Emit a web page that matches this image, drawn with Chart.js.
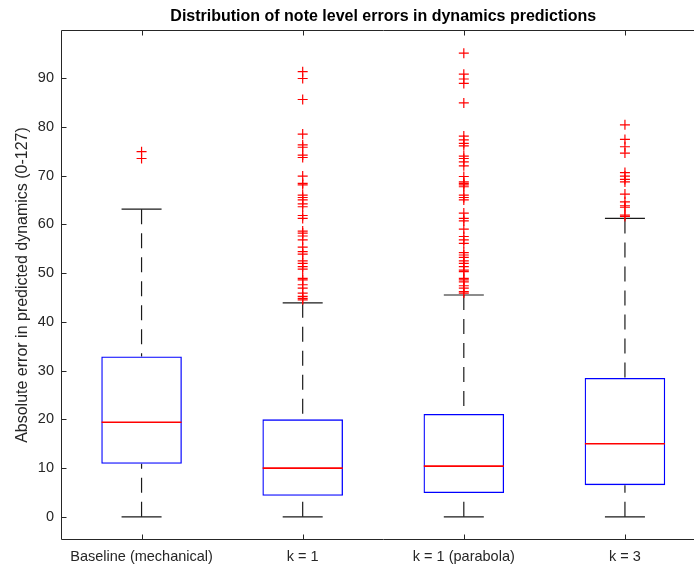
<!DOCTYPE html>
<html><head><meta charset="utf-8">
<script src="https://cdn.jsdelivr.net/npm/chart.js@4/dist/chart.umd.min.js"></script>
<style>html,body{margin:0;padding:0;overflow:hidden;background:#fff;width:694px;height:566px}#wrap{position:relative;width:720px;height:566px}canvas{display:block}</style>
</head><body>
<div id="wrap"><canvas id="c" width="720" height="566"></canvas></div>
<script>
// ---- data ----
const categories = ['Baseline (mechanical)', 'k = 1', 'k = 1 (parabola)', 'k = 3'];
const q1 = [10.9, 4.3, 4.9, 6.5];
const median = [19.4, 10.0, 10.4, 15.0];
const q3 = [32.9, 20.0, 21.1, 28.5];
const whiskerLow = [0, 0, 0, 0];
const whiskerHigh = [63.1, 43.9, 45.5, 61.2];
const outliersBaseline = [74.9, 73.5];
const outliersK1 = [91.3, 89.9, 85.6, 78.5, 76.3, 75.8, 74.2, 73.7, 69.9, 68.4, 68.1, 66.0, 65.5, 65.0, 64.2, 63.6, 61.8, 61.2, 58.6, 58.2, 57.6, 56.8, 55.3, 54.4, 53.9, 52.5, 52.0, 51.3, 50.8, 48.9, 48.6, 47.6, 46.9, 45.9, 45.2, 44.8, 44.5];
const outliersParabola = [95.1, 90.8, 89.8, 88.9, 84.9, 78.1, 77.3, 76.6, 76.1, 74.0, 73.5, 72.8, 72.0, 69.8, 68.7, 68.4, 68.1, 67.7, 66.0, 65.5, 65.0, 62.3, 61.2, 60.7, 59.0, 57.5, 56.8, 56.1, 54.2, 53.7, 53.2, 52.5, 52.0, 51.3, 50.6, 50.3, 48.9, 48.6, 48.2, 47.4, 46.9, 46.2, 45.9];
const outliersK3 = [80.4, 77.4, 75.9, 74.6, 70.6, 69.9, 69.2, 68.7, 66.2, 64.6, 63.8, 63.5, 61.9, 61.6];
const yTicks = [0, 10, 20, 30, 40, 50, 60, 70, 80, 90];
const yMin = -4.75, yMax = 99.85;
const xMin = 0.5, xMax = 4.5;

// ---- derived tables ----
const pos = categories.map((c, i) => i + 1);
const outlierGroups = [outliersBaseline, outliersK1, outliersParabola, outliersK3];
const outlierPoints = outlierGroups.flatMap((g, i) => g.map(v => ({x: pos[i], y: v})));
const whiskerPoints = pos.flatMap((p, i) => [
  {x: p, y: whiskerHigh[i]}, {x: p, y: q3[i]}, {x: p, y: null},
  {x: p, y: whiskerLow[i]}, {x: p, y: q1[i]}, {x: p, y: null}
]);
const capPoints = pos.flatMap((p, i) => [{x: p, y: whiskerHigh[i]}, {x: p, y: whiskerLow[i]}]);
const medianPoints = pos.map((p, i) => ({x: p, y: median[i]}));
const boxData = pos.map((p, i) => ({x: p, y: [q1[i], q3[i]]}));

const INK = '#262626';
const FONT = "'Liberation Sans', Arial, Helvetica, sans-serif";

const axesBox = {
  id: 'axesBox',
  afterDatasetsDraw(chart) {
    const {ctx, chartArea: a, scales: {x, y}} = chart;
    ctx.save();
    ctx.strokeStyle = INK;
    ctx.lineWidth = 1;
    ctx.setLineDash([]);
    const L = Math.round(a.left) + 0.5, R = Math.round(a.right) - 0.5;
    const T = Math.round(a.top) + 0.5, B = Math.round(a.bottom) - 0.5;
    ctx.beginPath();
    ctx.rect(L, T, R - L, B - T);
    yTicks.forEach(v => {
      const py = Math.round(y.getPixelForValue(v)) + 0.5;
      ctx.moveTo(L, py); ctx.lineTo(L + 5, py);
      ctx.moveTo(R, py); ctx.lineTo(R - 5, py);
    });
    pos.forEach(p => {
      const px = Math.round(x.getPixelForValue(p)) + 0.5;
      ctx.moveTo(px, B); ctx.lineTo(px, B - 5);
      ctx.moveTo(px, T); ctx.lineTo(px, T + 5);
    });
    ctx.stroke();
    ctx.restore();
  }
};

new Chart(document.getElementById('c'), {
  type: 'bar',
  data: {
    datasets: [
      {type: 'line', label: 'Outliers', data: outlierPoints, showLine: false, pointStyle: 'cross',
       pointRadius: 5, pointBorderColor: '#ff0000', pointBackgroundColor: '#ff0000', pointBorderWidth: 1.2, order: 0},
      {type: 'line', label: 'Median', data: medianPoints, showLine: false, pointStyle: 'line',
       pointRadius: 40, pointBorderColor: '#ff0000', pointBorderWidth: 1.6, order: 1},
      {type: 'bar', label: 'Box', data: boxData, backgroundColor: 'rgba(0,0,0,0)', borderColor: '#0000ff',
       borderWidth: 1.3, borderSkipped: false, barPercentage: 0.5, categoryPercentage: 1, order: 2},
      {type: 'line', label: 'Caps', data: capPoints, showLine: false, pointStyle: 'line',
       pointRadius: 20, pointBorderColor: '#1a1a1a', pointBorderWidth: 1.2, order: 3},
      {type: 'line', label: 'Whiskers', data: whiskerPoints, borderColor: '#1a1a1a', borderWidth: 1.2,
       borderDash: [15, 9], pointRadius: 0, spanGaps: false, fill: false, order: 4}
    ]
  },
  options: {
    responsive: false, maintainAspectRatio: false, animation: false, devicePixelRatio: 1,
    layout: {autoPadding: false, padding: {left: 0, right: 14.5, top: 0, bottom: 0}},
    plugins: {
      legend: {display: false},
      tooltip: {enabled: false},
      title: {display: true, fullSize: false, text: 'Distribution of note level errors in dynamics predictions',
              color: '#000000', font: {family: FONT, size: 16, weight: 'bold'}, padding: {top: 7, bottom: 3.8}}
    },
    scales: {
      x: {type: 'linear', min: xMin, max: xMax, offset: false,
          grid: {display: false, drawTicks: false}, border: {display: false},
          afterBuildTicks(s) { s.ticks = pos.map(p => ({value: p})); },
          ticks: {color: INK, font: {family: FONT, size: 14.5}, padding: 8.3, maxRotation: 0, autoSkip: false,
                  callback: (v, i) => categories[i]},
          afterFit(s) { s.height = 26; }},
      y: {type: 'linear', min: yMin, max: yMax,
          grid: {display: false, drawTicks: false}, border: {display: false},
          ticks: {color: INK, font: {family: FONT, size: 14.5}, padding: 7},
          afterBuildTicks(s) { s.ticks = yTicks.map(v => ({value: v})); },
          title: {display: true, text: 'Absolute error in predicted dynamics (0-127)', color: INK,
                  font: {family: FONT, size: 16}, padding: {top: 13, bottom: 0}},
          afterFit(s) { s.width = 61; }}
    }
  },
  plugins: [axesBox]
});
</script>
</body></html>
